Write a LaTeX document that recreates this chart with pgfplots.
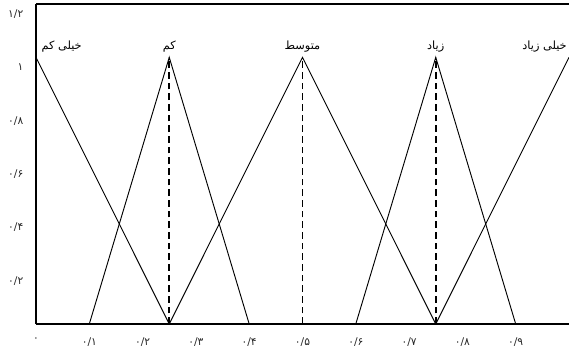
\documentclass[border=0pt]{standalone}
\usepackage{fontspec}
\usepackage{pgfplots}
\pgfplotsset{compat=1.18}
\TeXXeTstate=1
\newfontfamily\arabicfont[Script=Arabic]{DejaVu Sans}
\begin{document}
\begin{tikzpicture}
\useasboundingbox (-27pt,-20.25pt) rectangle (399.75pt,243pt);
\begin{axis}[
  scale only axis,
  width=399.75pt, height=240pt,
  xmin=0, xmax=1, ymin=0, ymax=1.2,
  axis line style={draw=none},
  major tick length=0pt,
  xtick={0,0.1,0.2,0.3,0.4,0.5,0.6,0.7,0.8,0.9},
  xticklabels={\mbox{\arabicfont ۰},\mbox{\arabicfont ۰/۱},\mbox{\arabicfont ۰/۲},\mbox{\arabicfont ۰/۳},\mbox{\arabicfont ۰/۴},\mbox{\arabicfont ۰/۵},\mbox{\arabicfont ۰/۶},\mbox{\arabicfont ۰/۷},\mbox{\arabicfont ۰/۸},\mbox{\arabicfont ۰/۹}},
  ytick={0.2,0.4,0.6,0.8,1,1.2},
  yticklabels={\mbox{\arabicfont ۰/۲},\mbox{\arabicfont ۰/۴},\mbox{\arabicfont ۰/۶},\mbox{\arabicfont ۰/۸},\mbox{\arabicfont ۱},\mbox{\arabicfont ۱/۲}},
  xticklabel style={font=\fontsize{8}{9}\selectfont, text=black!85, yshift=-7pt},
  yticklabel style={font=\fontsize{8}{9}\selectfont, text=black!85, yshift=-7.5pt, xshift=-6pt},
  clip=false,
]
\addplot[black, line width=0.7pt] coordinates {(0,1) (0.25,0)};
\addplot[black, line width=0.7pt] coordinates {(0.1,0) (0.25,1) (0.4,0)};
\addplot[black, line width=0.7pt] coordinates {(0.25,0) (0.5,1) (0.75,0)};
\addplot[black, line width=0.7pt] coordinates {(0.6,0) (0.75,1) (0.9,0)};
\addplot[black, line width=0.7pt] coordinates {(0.75,0) (1,1)};
\addplot[black, line width=1.2pt, dash pattern=on 5pt off 3pt] coordinates {(0.25,0) (0.25,1)};
\addplot[black, line width=1.3pt, dash pattern=on 5pt off 3pt] coordinates {(0.5,0) (0.5,1)};
\addplot[black, line width=1.2pt, dash pattern=on 5pt off 3pt] coordinates {(0.75,0) (0.75,1)};
\draw[line width=1.1pt] (rel axis cs:0,0) -- (rel axis cs:1,0);
\draw[line width=1.1pt] (rel axis cs:0,0) -- (rel axis cs:0,1);
\draw[line width=1.6pt] (rel axis cs:0,1) -- (rel axis cs:1,1);
\node[anchor=base west, font=\arabicfont\fontsize{8.5}{10}\selectfont, inner sep=0pt] at ([xshift=4pt,yshift=6pt]axis cs:0,1) {\beginR خیلی کم\endR};
\node[anchor=base, font=\arabicfont\fontsize{8.5}{10}\selectfont, inner sep=0pt] at ([yshift=6pt]axis cs:0.25,1) {\beginR کم\endR};
\node[anchor=base, font=\arabicfont\fontsize{8.5}{10}\selectfont, inner sep=0pt] at ([yshift=6pt]axis cs:0.5,1) {\beginR متوسط\endR};
\node[anchor=base, font=\arabicfont\fontsize{8.5}{10}\selectfont, inner sep=0pt] at ([yshift=6pt]axis cs:0.75,1) {\beginR زیاد\endR};
\node[anchor=base east, font=\arabicfont\fontsize{8.5}{10}\selectfont, inner sep=0pt] at ([xshift=-1.5pt,yshift=6pt]axis cs:1,1) {\beginR خیلی زیاد\endR};
\end{axis}
\end{tikzpicture}
\end{document}
